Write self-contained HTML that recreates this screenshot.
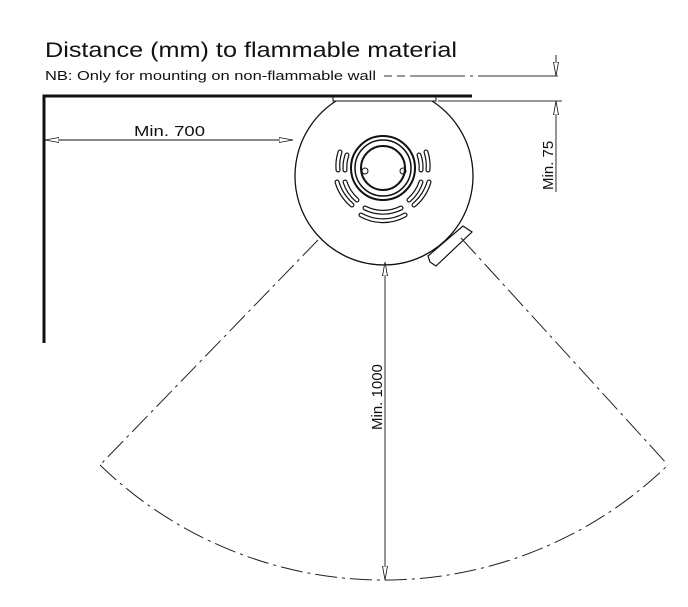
<!DOCTYPE html>
<html><head><style>body{margin:0;background:#fff}svg{display:block}text{font-family:"Liberation Sans",sans-serif;fill:#111}</style></head>
<body>
<svg width="688" height="607" viewBox="0 0 688 607" xmlns="http://www.w3.org/2000/svg">
<defs>
<marker id="a" viewBox="0 0 14 6" refX="14" refY="3" markerWidth="14" markerHeight="6" orient="auto-start-reverse" markerUnits="userSpaceOnUse"><path d="M0,0.5 L14,3 L0,5.5 Z" fill="#fff" stroke="#111" stroke-width="0.8"/></marker>
</defs>
<text x="45" y="57" font-size="21" textLength="412" lengthAdjust="spacingAndGlyphs">Distance (mm) to flammable material</text>
<text x="45" y="80" font-size="12.5" textLength="331" lengthAdjust="spacingAndGlyphs">NB: Only for mounting on non-flammable wall</text>
<line x1="384" y1="76" x2="560" y2="76" stroke="#333" stroke-width="1" stroke-dasharray="8,5,8,5,55,5,3,5,80"/>
<line x1="438" y1="101" x2="562" y2="101" stroke="#333" stroke-width="1"/>
<path d="M44,343 L44,96 L472,96" fill="none" stroke="#111" stroke-width="3"/>
<rect x="333" y="97" width="103" height="4" fill="#fff" stroke="#111" stroke-width="1"/>
<path d="M336,101 A89,89 0 1 0 432,101" fill="none" stroke="#111" stroke-width="1.3"/>
<circle cx="383" cy="168" r="32" fill="none" stroke="#111" stroke-width="2"/>
<circle cx="383" cy="168" r="28" fill="none" stroke="#111" stroke-width="1.5"/>
<circle cx="383" cy="168" r="22" fill="none" stroke="#111" stroke-width="2"/>
<circle cx="365" cy="171" r="3" fill="none" stroke="#111"/>
<circle cx="403" cy="171" r="3" fill="none" stroke="#111"/>
<g fill="none" stroke="#111" stroke-width="5" stroke-linecap="round">
<path d="M340,152 A45,45 0 0 0 338,170"/><path d="M347,155 A38,38 0 0 0 345,170"/>
<path d="M426,152 A45,45 0 0 1 428,170"/><path d="M419,155 A38,38 0 0 1 421,170"/>
<path d="M337,182 A48,48 0 0 0 352,205"/><path d="M345,182 A40,40 0 0 0 357,200"/>
<path d="M429,182 A48,48 0 0 1 414,205"/><path d="M421,182 A40,40 0 0 1 409,200"/>
<path d="M365,208 A40,40 0 0 0 401,208"/><path d="M361,215 A45,45 0 0 0 405,215"/>
</g>
<g fill="none" stroke="#fff" stroke-width="2.6" stroke-linecap="round">
<path d="M340,152 A45,45 0 0 0 338,170"/><path d="M347,155 A38,38 0 0 0 345,170"/>
<path d="M426,152 A45,45 0 0 1 428,170"/><path d="M419,155 A38,38 0 0 1 421,170"/>
<path d="M337,182 A48,48 0 0 0 352,205"/><path d="M345,182 A40,40 0 0 0 357,200"/>
<path d="M429,182 A48,48 0 0 1 414,205"/><path d="M421,182 A40,40 0 0 1 409,200"/>
<path d="M365,208 A40,40 0 0 0 401,208"/><path d="M361,215 A45,45 0 0 0 405,215"/>
</g>
<path d="M430,262 L428,256 L463,226 L472,232 L436,266 Z" fill="#fff" stroke="#111" stroke-width="1.2"/>
<g fill="none" stroke="#222" stroke-width="1" stroke-dasharray="22,5,3,5">
<line x1="318" y1="240" x2="100" y2="465"/>
<line x1="461" y1="238" x2="668" y2="465"/>
<path d="M100,465 A408,408 0 0 0 668,465"/>
</g>
<line x1="45" y1="140" x2="293" y2="140" stroke="#111" marker-start="url(#a)" marker-end="url(#a)" stroke-width="0.9"/>
<text x="134" y="136" font-size="15" textLength="71" lengthAdjust="spacingAndGlyphs">Min. 700</text>
<line x1="385" y1="262" x2="385" y2="580" stroke="#111" marker-start="url(#a)" marker-end="url(#a)" stroke-width="0.9"/>
<text transform="translate(382,430) rotate(-90)" font-size="15">Min. 1000</text>
<line x1="556" y1="55" x2="556" y2="76" stroke="#111" marker-end="url(#a)" stroke-width="0.9"/>
<line x1="556" y1="192" x2="556" y2="101" stroke="#111" marker-end="url(#a)" stroke-width="0.9"/>
<text transform="translate(553,190) rotate(-90)" font-size="15">Min. 75</text>
</svg>
</body></html>
